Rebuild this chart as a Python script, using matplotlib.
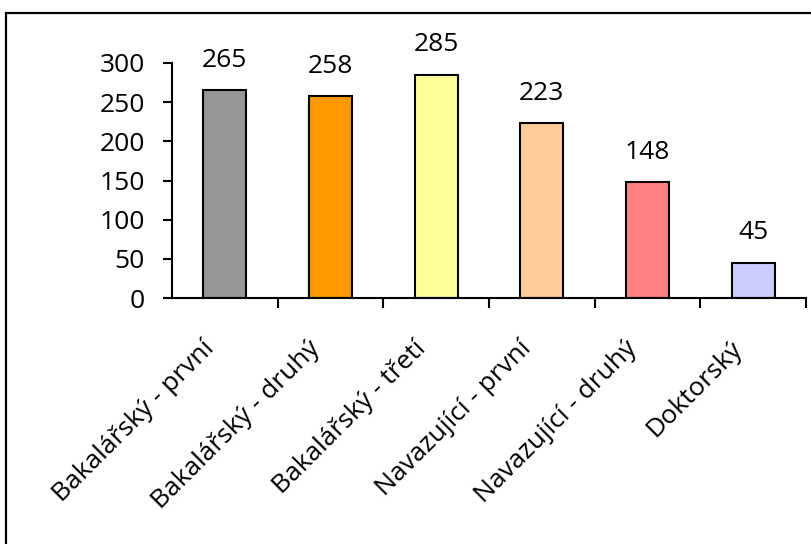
import matplotlib
matplotlib.use("Agg")
import matplotlib.pyplot as plt
from matplotlib.patches import Rectangle

# Students per study level
categories = ["Bakalářský - první", "Bakalářský - druhý", "Bakalářský - třetí",
              "Navazující - první", "Navazující - druhý", "Doktorský"]
counts = [265, 258, 285, 223, 148, 45]
bar_colors = ["#969696", "#FF9900", "#FFFF99", "#FFCC99", "#FF8080", "#CCCCFF"]
y_ticks = [0, 50, 100, 150, 200, 250, 300]

plt.rcParams["font.family"] = ["Open Sans", "DejaVu Sans"]
FS = 19

fig = plt.figure(figsize=(8.12, 5.44), dpi=100)
fig.patches.append(Rectangle((6 / 812, -0.1), 1.1, 1 - 13 / 544 + 0.1,
                             transform=fig.transFigure, fill=False,
                             edgecolor="black", linewidth=1.6))

ax = fig.add_axes([172 / 812, 1 - 298 / 544, 634 / 812, 235 / 544])
x = range(len(categories))
bars = ax.bar(x, counts, width=0.41, color=bar_colors,
              edgecolor="black", linewidth=1.5, zorder=2)

for xi, v in zip(x, counts):
    ax.annotate(str(v), (xi, v), xytext=(0, 12.5), textcoords="offset points",
                ha="center", va="bottom", fontsize=FS)

ax.set_xlim(-0.5, len(categories) - 0.5)
ax.set_ylim(0, 300)
ax.set_yticks(y_ticks)
ax.tick_params(axis="y", labelsize=FS, length=6.5, width=1.5, direction="out", pad=13)

# category boundary ticks on the x axis
ax.set_xticks([i + 0.5 for i in x])
ax.set_xticklabels([])
ax.tick_params(axis="x", length=7, width=1.5, direction="out")
for xi, lab in zip(x, categories):
    ax.annotate(lab, (xi, 0), xytext=(-23, -38), textcoords="offset pixels",
                rotation=45, rotation_mode="anchor",
                ha="right", va="top", fontsize=FS)

for s in ("top", "right"):
    ax.spines[s].set_visible(False)
for s in ("left", "bottom"):
    ax.spines[s].set_linewidth(1.5)

fig.savefig("out.png", dpi=100)
